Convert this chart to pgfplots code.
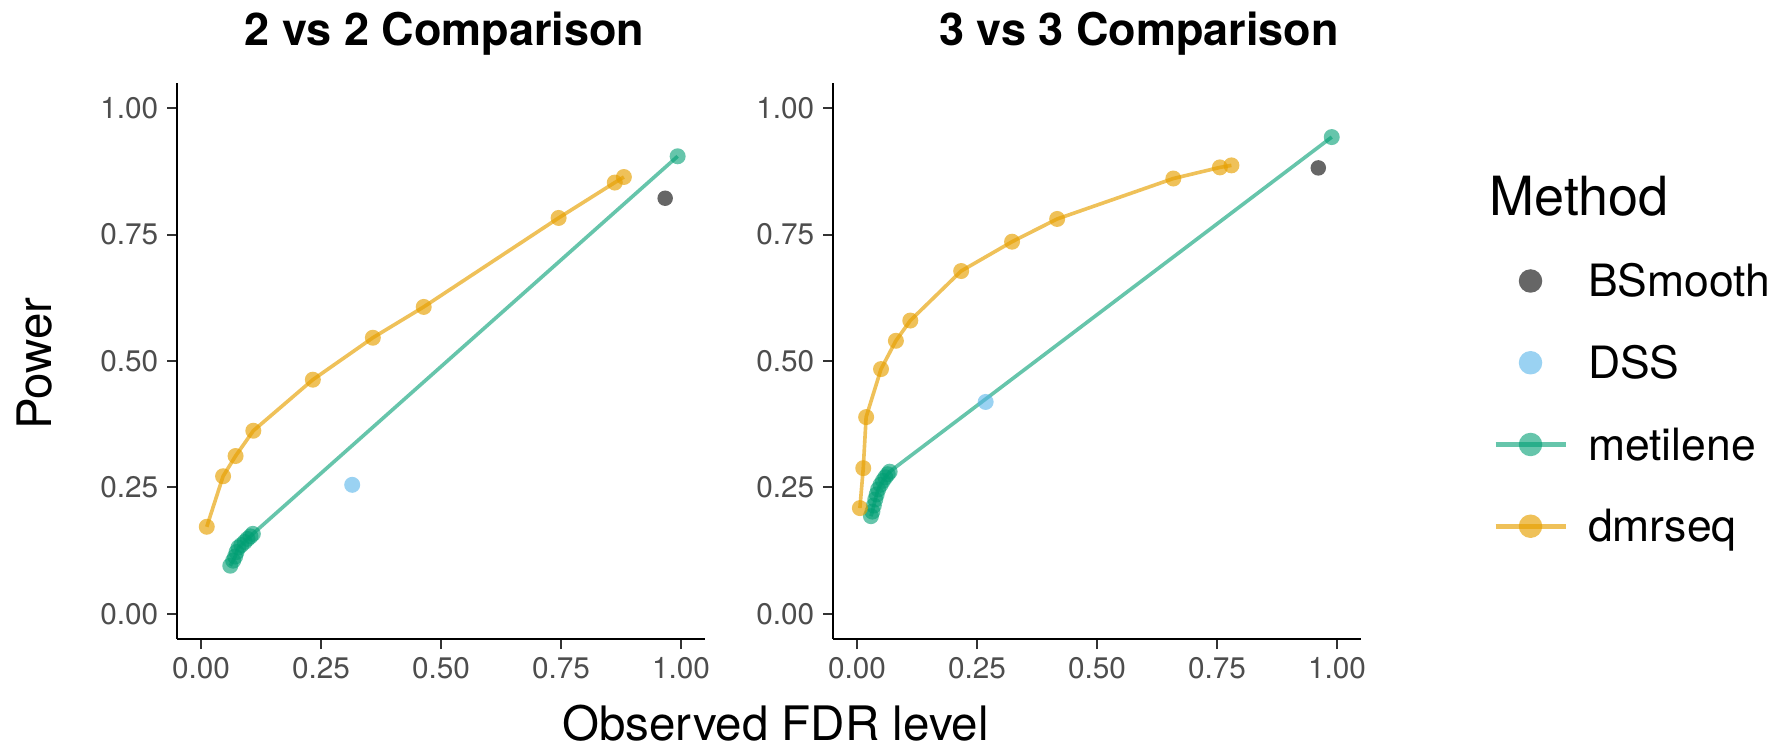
\documentclass[border=0pt]{standalone}
\usepackage{pgfplots}
\pgfplotsset{compat=1.18}
\usepackage{fontspec}
\setmainfont{TeX Gyre Heros}
\definecolor{bscol}{HTML}{666666}
\definecolor{dsscol}{HTML}{56B4E9}
\definecolor{metcol}{HTML}{009E73}
\definecolor{dmrcol}{HTML}{E69F00}
\definecolor{ticklab}{HTML}{4D4D4D}
\definecolor{tickcol}{HTML}{333333}
\pgfplotsset{
 panel/.style={
  width=211.2pt, height=222.4pt, scale only axis,
  anchor=south west,
  xmin=-0.05, xmax=1.05, ymin=-0.05, ymax=1.05,
  axis x line*=bottom, axis y line*=left,
  axis line style={black, line width=1pt, -},
  xtick={0,0.25,0.5,0.75,1}, ytick={0,0.25,0.5,0.75,1},
  tick align=outside, major tick length=4pt,
  tick style={tickcol, line width=0.8pt},
  ticklabel style={font=\fontsize{11.9}{14}\selectfont, text=ticklab,
    /pgf/number format/.cd, fixed, fixed zerofill, precision=2, assume math mode=true},
  clip=false,
 },
 dmr/.style={dmrcol, line width=1.45pt, draw opacity=0.65, mark=*, mark size=3.2pt,
   mark options={draw opacity=0, line width=0pt, fill=dmrcol, fill opacity=0.65}},
 met/.style={metcol, line width=1.45pt, draw opacity=0.6, mark=*, mark size=3.2pt,
   mark options={draw opacity=0, line width=0pt, fill=metcol, fill opacity=0.6}},
 bs/.style={bscol, only marks, mark=*, mark size=3.1pt, mark options={draw opacity=0, line width=0pt, fill=bscol}},
 dss/.style={dsscol, only marks, mark=*, mark size=3.2pt, mark options={draw opacity=0, line width=0pt, fill=dsscol, fill opacity=0.6}},
}
\begin{document}
\begin{tikzpicture}[x=0.4pt,y=0.4pt]
\path[use as bounding box] (0,0) rectangle (1788,747);
% ---------------- left panel
\begin{axis}[panel, at={(70.8pt,43.2pt)}]
\addplot[bs] coordinates {(0.967,0.822)};
\addplot[dss] coordinates {(0.315,0.255)};
\addplot[met] table {
x y
0.061 0.095
0.067 0.105
0.071 0.113
0.074 0.122
0.078 0.131
0.084 0.136
0.091 0.142
0.097 0.148
0.103 0.153
0.108 0.158
0.993 0.905
};
\addplot[dmr] table {
x y
0.012 0.172
0.046 0.272
0.072 0.312
0.109 0.362
0.233 0.463
0.358 0.546
0.464 0.607
0.745 0.783
0.862 0.853
0.881 0.864
};
\end{axis}
% ---------------- right panel
\begin{axis}[panel, at={(333.2pt,43.2pt)},
  legend style={at={(1.2500,0.7174)}, anchor=north west, draw=none, fill=none,
    inner sep=0pt, outer sep=0pt, row sep=0pt,
    font=\fontsize{17.8}{20}\selectfont,
    nodes={inner sep=0pt, text height=22.65pt, text depth=10.05pt},
    /tikz/every odd column/.append style={column sep=8.0pt}},
  legend cell align=left]
\addplot[bs, forget plot] coordinates {(0.961,0.882)};
\addplot[met, forget plot] table {
x y
0.029 0.193
0.032 0.202
0.035 0.214
0.038 0.226
0.041 0.236
0.044 0.246
0.049 0.255
0.054 0.263
0.059 0.270
0.064 0.276
0.068 0.281
0.989 0.943
};
\addplot[dss, forget plot] coordinates {(0.268,0.419)};
\addplot[dmr, forget plot] table {
x y
0.006 0.209
0.013 0.288
0.019 0.389
0.050 0.484
0.081 0.540
0.111 0.580
0.217 0.678
0.323 0.736
0.417 0.781
0.659 0.861
0.756 0.883
0.780 0.887
};
\addlegendimage{legend image code/.code={\path[draw=none,fill=none] (0pt,0pt) -- (28pt,0pt); \path[draw=none, fill=bscol] (14pt,0pt) circle (4.7pt);}}
\addlegendimage{legend image code/.code={\path[draw=none,fill=none] (0pt,0pt) -- (28pt,0pt); \path[draw=none, fill=dsscol, fill opacity=0.6] (14pt,0pt) circle (4.7pt);}}
\addlegendimage{legend image code/.code={\path[draw=metcol, draw opacity=0.6, line width=2pt, fill=none] (0pt,0pt) -- (28pt,0pt); \path[draw=none, fill=metcol, fill opacity=0.6] (14pt,0pt) circle (4.7pt);}}
\addlegendimage{legend image code/.code={\path[draw=dmrcol, draw opacity=0.65, line width=2pt, fill=none] (0pt,0pt) -- (28pt,0pt); \path[draw=none, fill=dmrcol, fill opacity=0.65] (14pt,0pt) circle (4.7pt);}}
\legend{BSmooth, DSS, metilene, dmrseq}
\end{axis}
% ---------------- texts
\node[anchor=base, inner sep=0pt, font=\bfseries\fontsize{18}{21}\selectfont] at (444.5,701) {2 vs 2 Comparison};
\node[anchor=base, inner sep=0pt, font=\bfseries\fontsize{18}{21}\selectfont] at (1139,701) {3 vs 3 Comparison};
\node[anchor=base, inner sep=0pt, rotate=90, font=\fontsize{19}{22}\selectfont] at (51,383.5) {Power};
\node[anchor=base, inner sep=0pt, font=\fontsize{19}{22}\selectfont] at (775.5,6) {Observed FDR level};
\node[anchor=base west, inner sep=0pt, font=\fontsize{21.6}{25}\selectfont] at (1489,531.3) {Method};
\end{tikzpicture}
\end{document}
